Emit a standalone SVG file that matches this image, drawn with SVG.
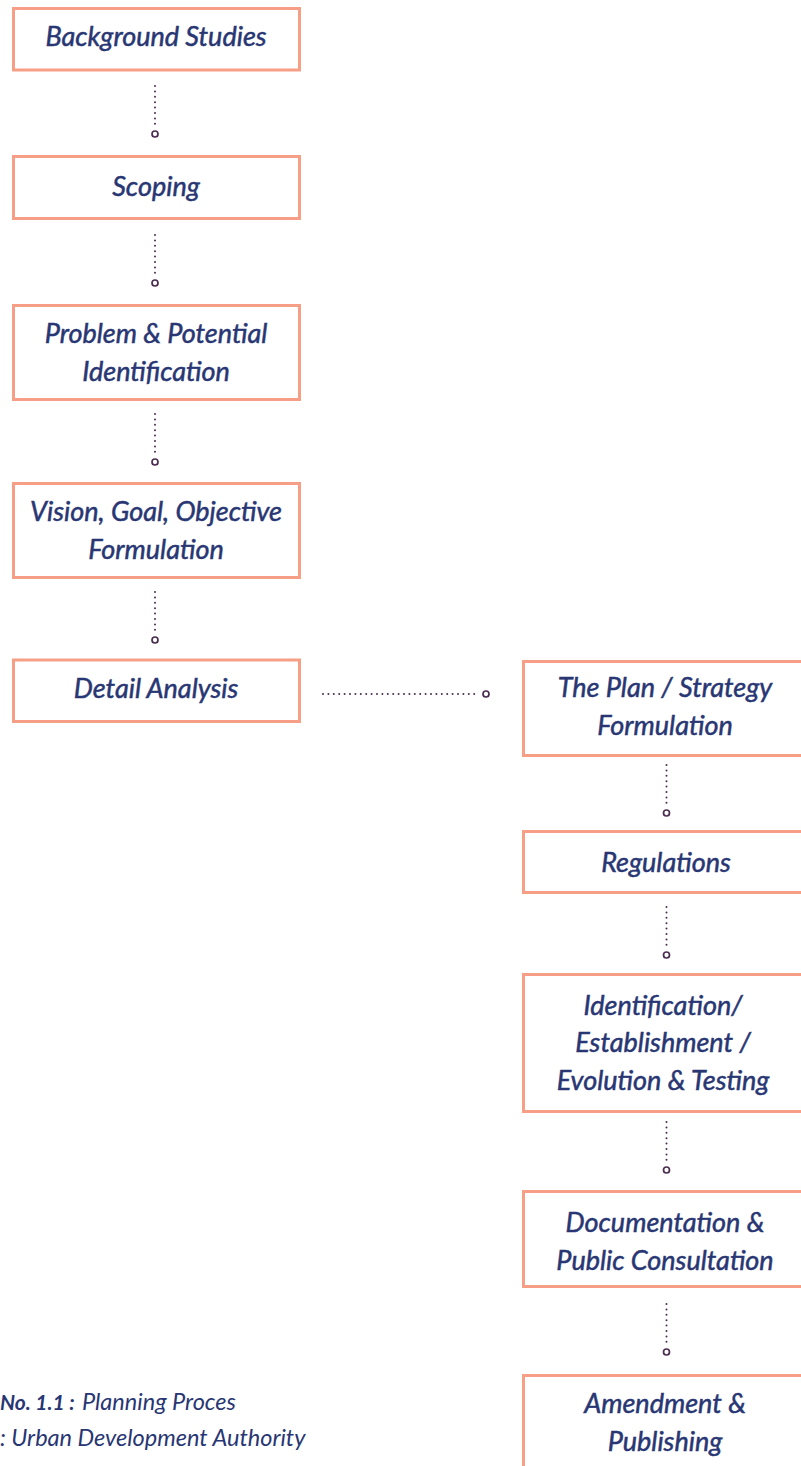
<svg xmlns="http://www.w3.org/2000/svg" width="801" height="1466" viewBox="0 0 801 1466">
<defs>
<style>
.box{fill:#fff;stroke:#F79F86;stroke-width:3}
.t{font-family:Lato,"Noto Sans",sans-serif;font-style:italic;font-size:27px;fill:#283673;stroke:#283673;stroke-width:0.5;text-anchor:middle}
.dot{stroke:#4B2D4F;stroke-width:2;stroke-linecap:round;stroke-dasharray:0 5.4;fill:none}
.end{fill:#fff;stroke:#4B2D4F;stroke-width:1.7}
.cap{font-family:Lato,"Noto Sans",sans-serif;font-style:italic;font-size:23.5px;fill:#283673}
.capb{font-family:Lato,"Noto Sans",sans-serif;font-style:italic;font-weight:bold;font-size:21px;fill:#283673}
</style>
</defs>
<rect width="801" height="1466" fill="#fff"/>
<g id="n1"><rect class="box" x="13.5" y="8.5" width="286" height="61.5"/><text class="t" x="156" y="46">Background Studies</text></g>
<g id="n2"><rect class="box" x="13.5" y="156.5" width="286" height="62"/><text class="t" x="156" y="196">Scoping</text></g>
<g id="n3"><rect class="box" x="13.5" y="305.5" width="286" height="94"/><text class="t" x="156" y="343">Problem &amp; Potential</text><text class="t" x="156" y="381">Identification</text></g>
<g id="n4"><rect class="box" x="13.5" y="483.5" width="286" height="94"/><text class="t" x="156" y="521">Vision, Goal, Objective</text><text class="t" x="156" y="559">Formulation</text></g>
<g id="n5"><rect class="box" x="13.5" y="660" width="286" height="61.5"/><text class="t" x="156" y="698">Detail Analysis</text></g>
<g id="n6"><rect class="box" x="523.5" y="661.5" width="300" height="94"/><text class="t" x="665" y="697">The Plan / Strategy</text><text class="t" x="665" y="735">Formulation</text></g>
<g id="n7"><rect class="box" x="523.5" y="831.5" width="300" height="61"/><text class="t" x="666" y="872">Regulations</text></g>
<g id="n8"><rect class="box" x="523.5" y="974.5" width="300" height="137"/><text class="t" x="663" y="1015">Identification/</text><text class="t" x="663" y="1052">Establishment /</text><text class="t" x="663" y="1090">Evolution &amp; Testing</text></g>
<g id="n9"><rect class="box" x="523.5" y="1191.5" width="300" height="95"/><text class="t" x="665" y="1232">Documentation &amp;</text><text class="t" x="665" y="1270">Public Consultation</text></g>
<g id="n10"><rect class="box" x="523.5" y="1375.5" width="300" height="120"/><text class="t" x="665" y="1413">Amendment &amp;</text><text class="t" x="665" y="1451">Publishing</text></g>
<g id="connectors">
<line class="dot" x1="155" y1="86" x2="155" y2="127"/><circle class="end" cx="155" cy="134" r="3"/>
<line class="dot" x1="155" y1="235" x2="155" y2="276"/><circle class="end" cx="155" cy="283" r="3"/>
<line class="dot" x1="155" y1="414" x2="155" y2="455"/><circle class="end" cx="155" cy="462" r="3"/>
<line class="dot" x1="155" y1="592" x2="155" y2="633"/><circle class="end" cx="155" cy="640" r="3"/>
<line class="dot" x1="323" y1="694" x2="479" y2="694"/><circle class="end" cx="486" cy="694" r="3"/>
<line class="dot" x1="666.5" y1="765" x2="666.5" y2="806"/><circle class="end" cx="666.5" cy="813" r="3"/>
<line class="dot" x1="666.5" y1="907" x2="666.5" y2="948"/><circle class="end" cx="666.5" cy="955" r="3"/>
<line class="dot" x1="666.5" y1="1122" x2="666.5" y2="1163"/><circle class="end" cx="666.5" cy="1170" r="3"/>
<line class="dot" x1="666.5" y1="1304" x2="666.5" y2="1345"/><circle class="end" cx="666.5" cy="1352" r="3"/>
</g>
<g id="caption">
<text class="capb" x="0" y="1410">No. 1.1 :</text>
<text class="cap" x="82" y="1410">Planning Proces</text>
<text class="cap" x="0" y="1446">: Urban Development Authority</text>
</g>
</svg>
